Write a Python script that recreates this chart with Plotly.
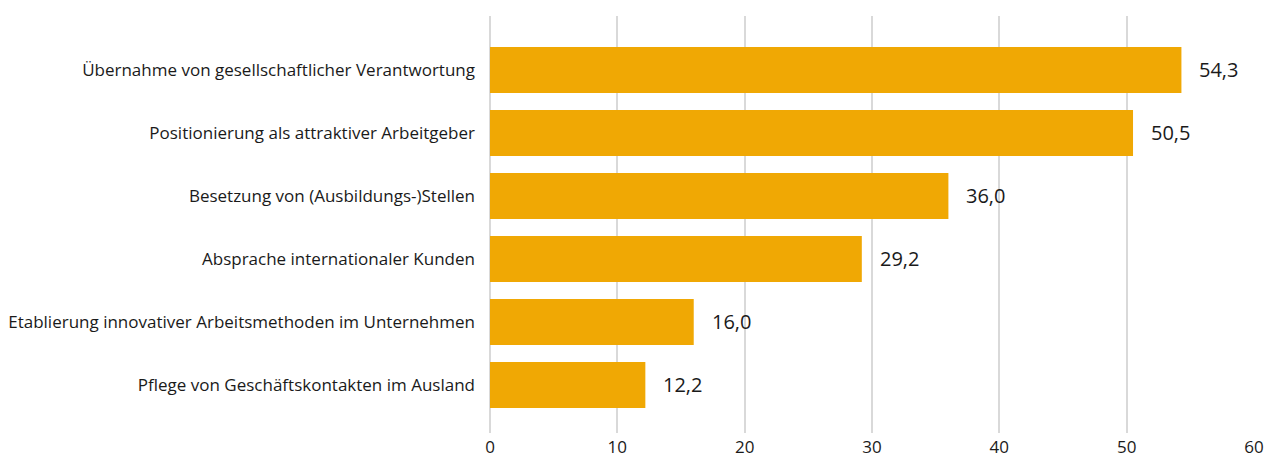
import plotly.graph_objects as go

categories = [
    "Übernahme von gesellschaftlicher Verantwortung",
    "Positionierung als attraktiver Arbeitgeber",
    "Besetzung von (Ausbildungs-)Stellen",
    "Absprache internationaler Kunden",
    "Etablierung innovativer Arbeitsmethoden im Unternehmen",
    "Pflege von Geschäftskontakten im Ausland",
]
values = [54.3, 50.5, 36.0, 29.2, 16.0, 12.2]
x_ticks = [0, 10, 20, 30, 40, 50, 60]

labels = [f"{v:.1f}".replace(".", ",") for v in values]
FONT = "Open Sans"
fig = go.Figure()
fig.add_trace(go.Bar(
    x=values, y=categories, orientation="h",
    marker=dict(color="#F0A804", line=dict(width=0)),
    width=0.73, hoverinfo="skip",
))
for c, v, t in zip(categories, values, labels):
    fig.add_annotation(x=v, y=c, text=t, showarrow=False, xanchor="left",
                       xshift=16, font=dict(family=FONT, size=20, color="#1a1a1a"))

fig.update_layout(
    width=1272, height=459,
    margin=dict(l=482, r=26, t=8, b=34, autoexpand=False),
    paper_bgcolor="white", plot_bgcolor="white",
    showlegend=False,
    font=dict(family=FONT, size=17, color="#1a1a1a"),
)
fig.update_xaxes(range=[0, 60], tickvals=x_ticks, ticktext=[str(t) for t in x_ticks],
                 showgrid=True, gridcolor="#d9d9d9", gridwidth=1.5, zeroline=True,
                 zerolinecolor="#d9d9d9", zerolinewidth=1.5, showline=False,
                 ticks="", ticklabelstandoff=2, tickfont=dict(size=17, family=FONT, color="#1a1a1a"))
fig.update_yaxes(range=[5.762, -0.857], showgrid=False, ticks="", ticklabelstandoff=14,
                 tickfont=dict(size=17, family=FONT, color="#1a1a1a"))
fig.write_html("out.html")
